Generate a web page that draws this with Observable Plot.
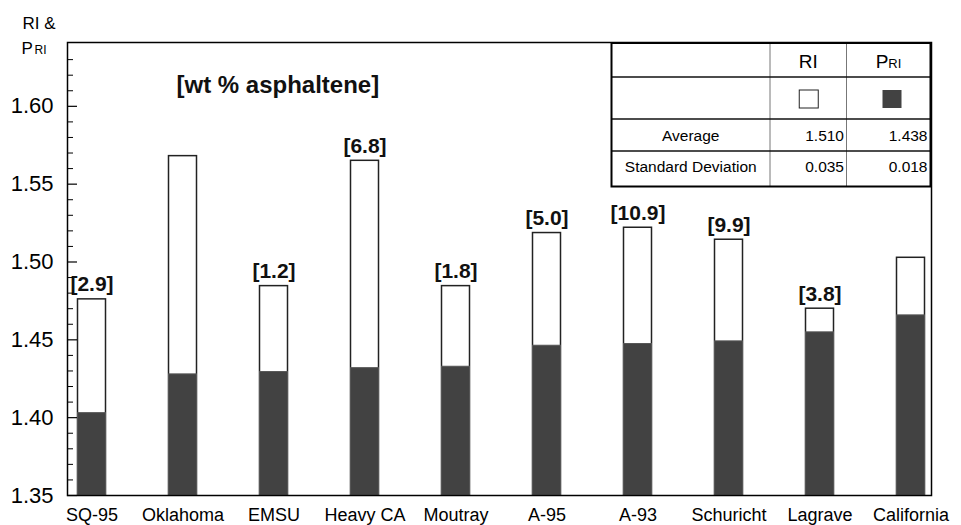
<!DOCTYPE html>
<html><head><meta charset="utf-8">
<script src="https://cdn.jsdelivr.net/npm/d3@7"></script>
<script src="https://cdn.jsdelivr.net/npm/@observablehq/plot@0.6"></script>
<style>body{margin:0;background:#fff} svg{display:block}</style>
</head><body><div id="chart"></div>
<script>
const crudes = ["SQ-95","Oklahoma","EMSU","Heavy CA","Moutray","A-95","A-93","Schuricht","Lagrave","California"];
const riValues = [1.476,1.568,1.4845,1.565,1.4845,1.5186,1.522,1.5143,1.470,1.5027];
const priValues = [1.4029,1.4278,1.4293,1.4318,1.4327,1.4462,1.4473,1.449,1.4548,1.4657];
const asphaltene = ["[2.9]", null, "[1.2]", "[6.8]", "[1.8]", "[5.0]", "[10.9]", "[9.9]", "[3.8]", null];
const yTickLabels = [1.35,1.40,1.45,1.50,1.55,1.60];
const yMinorTicks = [1.36,1.37,1.38,1.39,1.41,1.42,1.43,1.44,1.46,1.47,1.48,1.49,1.51,1.52,1.53,1.54,1.56,1.57,1.58,1.59,1.61,1.62,1.63];
const statRows = ["Average","Standard Deviation"];
const riStats = ["1.510","0.035"];
const priStats = ["1.438","0.018"];

const data = crudes.map((c,i)=>({crude:c, ri:riValues[i], pri:priValues[i], label:asphaltene[i]}));
const W=961,H=525,mL=67,mR=30,mT=42,mB=30;
const fw = W-mL-mR;
const FONT = "'Liberation Sans', Arial, Helvetica, sans-serif";

const plot = Plot.plot({
  width:W, height:H, marginLeft:mL, marginRight:mR, marginTop:mT, marginBottom:mB,
  style:{fontFamily:FONT, background:"white", color:"black", overflow:"visible"},
  x:{domain:crudes, range:[43,958], padding:0, label:null},
  y:{domain:[1.35,1.641], label:null},
  marks:[
    Plot.barY(data,{x:"crude", y1:1.35, y2:"ri", fill:"white", stroke:"#222", strokeWidth:1.5, insetLeft:31.5, insetRight:31.5}),
    Plot.barY(data,{x:"crude", y1:1.35, y2:"pri", fill:"#424242", stroke:"#555", strokeWidth:1, insetLeft:31.5, insetRight:31.5}),
    Plot.text(data.filter(d=>d.label),{x:"crude", y:"ri", text:"label", dy:-8, lineAnchor:"bottom", fontSize:21, fontWeight:"bold", fill:"#111"}),
    Plot.tickY(yMinorTicks,{y:d=>d, insetRight:fw-6, stroke:"black", strokeWidth:1}),
    Plot.tickY(yTickLabels,{y:d=>d, insetRight:fw-10, stroke:"black", strokeWidth:1.2}),
    Plot.axisY({ticks:yTickLabels, tickSize:0, tickPadding:14, fontSize:22, tickFormat:d=>d.toFixed(2), label:null}),
    Plot.axisX({tickSize:0, tickPadding:13, fontSize:18, label:null}),
    Plot.frame({stroke:"black", strokeWidth:1.5}),
    Plot.text(["[wt % asphaltene]"],{text:d=>d, frameAnchor:"top-left", dx:109, dy:43, textAnchor:"start", lineAnchor:"middle", fontSize:24, fontWeight:"bold", fill:"#111"}),
    Plot.text(["RI &"],{text:d=>d, frameAnchor:"top-left", dx:-45, dy:-14, textAnchor:"start", lineAnchor:"bottom", fontSize:17}),
    Plot.text(["P"],{text:d=>d, frameAnchor:"top-left", dx:-46, dy:11, textAnchor:"start", lineAnchor:"bottom", fontSize:17}),
    Plot.text(["RI"],{text:d=>d, frameAnchor:"top-left", dx:-33, dy:11, textAnchor:"start", lineAnchor:"bottom", fontSize:12})
  ]
});
document.getElementById("chart").appendChild(plot);

// Legend / statistics table
const svg = d3.select(plot);
const g = svg.append("g").attr("font-family", FONT).attr("fill","black");
const tL=611.5, tR=930.5, rows=[43,77,119,151,186.5], cols=[611.5,770,846.5,930.5];
g.append("rect").attr("x",tL).attr("y",rows[0]).attr("width",tR-tL).attr("height",rows[4]-rows[0]).attr("fill","white").attr("stroke","none");
cols.slice(1,3).forEach(x=>g.append("line").attr("x1",x).attr("x2",x).attr("y1",rows[0]).attr("y2",rows[4]).attr("stroke","#777").attr("stroke-width",1));
rows.slice(1,4).forEach(y=>g.append("line").attr("x1",tL).attr("x2",tR).attr("y1",y).attr("y2",y).attr("stroke","#111").attr("stroke-width",1.3));
g.append("rect").attr("x",tL).attr("y",rows[0]).attr("width",tR-tL).attr("height",rows[4]-rows[0]).attr("fill","none").attr("stroke","black").attr("stroke-width",2);
const c2=(cols[1]+cols[2])/2, c3=(cols[2]+cols[3])/2, c1=(cols[0]+cols[1])/2;
g.append("text").attr("x",c2).attr("y",68).attr("text-anchor","middle").attr("font-size",19).text("RI");
const pt = g.append("text").attr("x",c3).attr("y",68).attr("text-anchor","middle");
pt.append("tspan").attr("font-size",19).text("P");
pt.append("tspan").attr("font-size",13).text("RI");
g.append("rect").attr("x",c2-9).attr("y",90).attr("width",19).attr("height",18).attr("fill","white").attr("stroke","#222").attr("stroke-width",1);
g.append("rect").attr("x",c3-6).attr("y",90).attr("width",19).attr("height",18).attr("fill","#424242");
statRows.forEach((r,i)=>{
  const y = i===0 ? 141 : 172;
  g.append("text").attr("x",c1).attr("y",y).attr("text-anchor","middle").attr("font-size",15.5).text(r);
  g.append("text").attr("x",cols[2]-2.5).attr("y",y).attr("text-anchor","end").attr("font-size",15.5).text(riStats[i]);
  g.append("text").attr("x",cols[3]-3).attr("y",y).attr("text-anchor","end").attr("font-size",15.5).text(priStats[i]);
});
</script>
</body></html>
